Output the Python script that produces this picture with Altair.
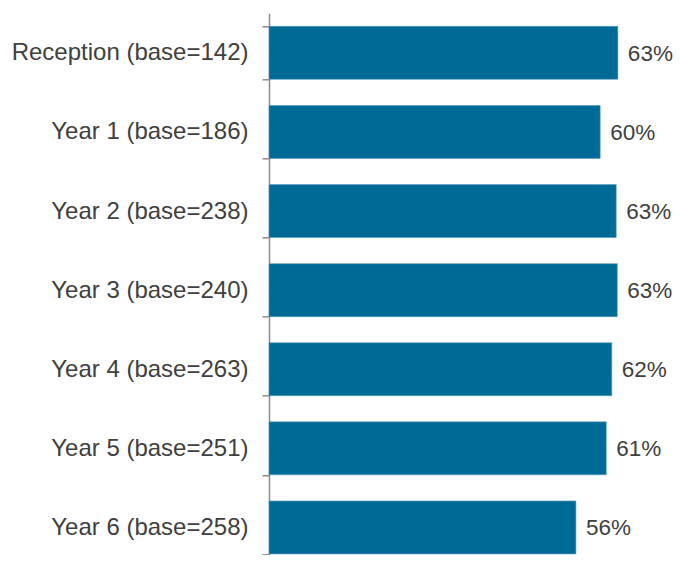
import altair as alt
import pandas as pd

categories = [
    "Reception (base=142)",
    "Year 1 (base=186)",
    "Year 2 (base=238)",
    "Year 3 (base=240)",
    "Year 4 (base=263)",
    "Year 5 (base=251)",
    "Year 6 (base=258)",
]
values = [63.2, 60.0, 62.9, 63.1, 62.1, 61.1, 55.6]
labels = ["63%", "60%", "63%", "63%", "62%", "61%", "56%"]

df = pd.DataFrame({"cat": categories, "val": values, "lab": labels})

FONT = "Liberation Sans"
TEXT = "#404040"
BAR = "#006a97"

y_enc = alt.Y(
    "cat:N",
    sort=categories,
    title=None,
    scale=alt.Scale(paddingInner=0.33, paddingOuter=0.165, range=[0, 553.7]),
    axis=alt.Axis(
        tickBand="extent",
        domainColor="#8c8c8c",
        domainWidth=1.5,
        tickColor="#8c8c8c",
        tickWidth=1.5,
        tickSize=7,
        labelPadding=14,
        labelFont=FONT,
        labelFontSize=24,
        labelColor=TEXT,
        labelLimit=400,
        grid=False,
    ),
)

x_enc = alt.X(
    "val:Q",
    title=None,
    scale=alt.Scale(domain=[0, 70], nice=False, zero=True),
    axis=None,
)

bars = alt.Chart(df).mark_bar(color=BAR, stroke="#5a9cc0", strokeWidth=0.6).encode(
    y=y_enc, x=x_enc
)

text = alt.Chart(df).mark_text(
    align="left", baseline="middle", dx=10, dy=1, font=FONT, fontSize=22.5, color=TEXT
).encode(y=alt.Y("cat:N", sort=categories), x="val:Q", text="lab:N")

chart = (
    alt.layer(bars, text)
    .properties(
        width=386.4,
        height=541.7,
        background="white",
        padding={"left": 261, "top": 5.3, "right": 17.6, "bottom": 0},
        autosize=alt.AutoSizeParams(type="none"),
    )
    .configure_view(stroke=None, strokeWidth=0)
)

chart.save("out.html", embed_options={"renderer": "svg", "actions": False})
